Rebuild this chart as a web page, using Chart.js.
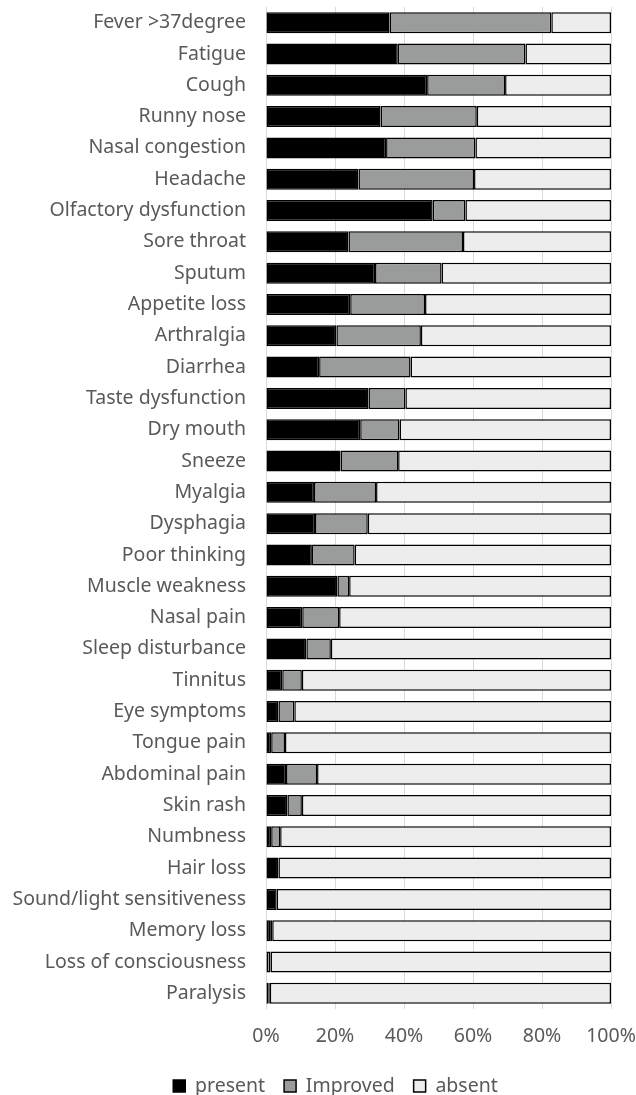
<!DOCTYPE html>
<html>
<head>
<meta charset="utf-8">
<script src="https://cdn.jsdelivr.net/npm/chart.js@4/dist/chart.umd.min.js"></script>
<style>
  html, body { margin: 0; padding: 0; background: #ffffff; }
  #wrap { width: 636px; height: 1095px; position: relative; }
</style>
</head>
<body>
<div id="wrap"><canvas id="chart"></canvas></div>
<script>
// Symptom categories, listed top to bottom
const symptoms = [
  "Fever >37degree", "Fatigue", "Cough", "Runny nose", "Nasal congestion",
  "Headache", "Olfactory dysfunction", "Sore throat", "Sputum", "Appetite loss",
  "Arthralgia", "Diarrhea", "Taste dysfunction", "Dry mouth", "Sneeze",
  "Myalgia", "Dysphagia", "Poor thinking", "Muscle weakness", "Nasal pain",
  "Sleep disturbance", "Tinnitus", "Eye symptoms", "Tongue pain", "Abdominal pain",
  "Skin rash", "Numbness", "Hair loss", "Sound/light sensitiveness", "Memory loss",
  "Loss of consciousness", "Paralysis"
];

// Share of patients (%) per status
const present = [
  35.8, 38.2, 46.7, 33.2, 34.8, 26.8, 48.3, 23.9, 31.6, 24.4,
  20.4, 15.4, 29.7, 27.3, 21.6, 13.9, 14.2, 13.3, 20.7, 10.5,
  11.7, 4.7, 3.6, 1.5, 5.8, 6.2, 1.5, 3.6, 3.1, 1.2,
  0.0, 0.8
];
const improved = [
  46.9, 37.0, 22.6, 27.9, 25.9, 33.5, 9.5, 33.2, 19.3, 21.7,
  24.5, 26.5, 10.7, 11.4, 16.7, 18.0, 15.3, 12.4, 3.4, 10.7,
  7.1, 5.7, 4.6, 4.0, 9.0, 4.2, 2.6, 0.0, 0.0, 0.6,
  1.3, 0.3
];
const absent = [
  17.3, 24.8, 30.7, 38.9, 39.3, 39.7, 42.2, 42.9, 49.1, 53.9,
  55.1, 58.1, 59.6, 61.3, 61.7, 68.1, 70.5, 74.3, 75.9, 78.8,
  81.2, 89.6, 91.8, 94.5, 85.2, 89.6, 95.9, 96.4, 96.9, 98.2,
  98.7, 98.9
];

// Axis ticks, every 20%
const xTicks = [0, 20, 40, 60, 80, 100];

const FONT = "'Noto Sans', 'Open Sans', sans-serif";
const FONT_SIZE = 19.5;
const TEXT = "#595959";

const PLOT_LEFT = 266;
// Horizontal offset of the legend row
const LEGEND_SHIFT = 30;

const barStyle = {
  borderColor: "#000000",
  borderWidth: 1.5,
  borderSkipped: false,
  categoryPercentage: 1.0,
  barPercentage: 0.67
};

const legendShift = {
  id: "legendShift",
  afterLayout(chart) {
    const lg = chart.legend;
    if (lg) {
      lg.left += LEGEND_SHIFT;
      lg.right += LEGEND_SHIFT;
    }
  }
};

new Chart(document.getElementById("chart"), {
  type: "bar",
  data: {
    labels: symptoms,
    datasets: [
      Object.assign({ label: "present", data: present, backgroundColor: "#000000" }, barStyle),
      Object.assign({ label: "Improved", data: improved, backgroundColor: "#9a9c9c" }, barStyle),
      Object.assign({ label: "absent", data: absent, backgroundColor: "#ededed" }, barStyle)
    ]
  },
  plugins: [legendShift],
  options: {
    indexAxis: "y",
    responsive: true,
    maintainAspectRatio: false,
    animation: false,
    layout: { padding: { top: 7, right: 25, left: 0, bottom: -10.75 } },
    scales: {
      x: {
        stacked: true,
        min: 0,
        max: 100,
        afterBuildTicks: (scale) => { scale.ticks = xTicks.map(v => ({ value: v })); },
        grid: { color: "#d9d9d9", lineWidth: 1, drawTicks: false },
        border: { display: false },
        ticks: {
          color: TEXT,
          font: { family: FONT, size: FONT_SIZE },
          padding: 16,
          maxRotation: 0,
          callback: (v) => v + "%"
        },
        afterFit: (scale) => {
          scale.height = 48.25;
          scale.paddingLeft = 0;
          scale.paddingRight = 0;
        }
      },
      y: {
        stacked: true,
        grid: { display: false, drawTicks: false },
        border: { display: false },
        ticks: {
          color: TEXT,
          font: { family: FONT, size: FONT_SIZE },
          padding: 20,
          autoSkip: false
        },
        afterFit: (scale) => {
          scale.width = PLOT_LEFT;
          scale.paddingTop = 0;
          scale.paddingBottom = 0;
        }
      }
    },
    plugins: {
      legend: {
        position: "bottom",
        labels: {
          color: TEXT,
          font: { family: FONT, size: FONT_SIZE },
          boxWidth: 12,
          boxHeight: 12,
          padding: 19
        }
      },
      tooltip: { enabled: false }
    }
  }
});
</script>
</body>
</html>
